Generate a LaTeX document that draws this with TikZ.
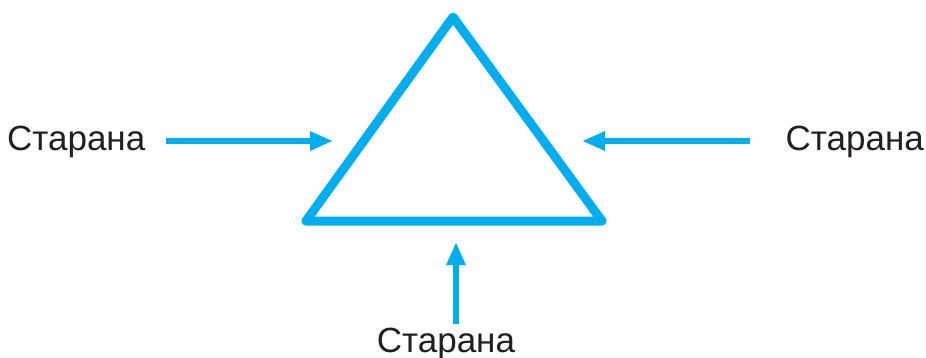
\documentclass[tikz,border=0pt]{standalone}
\usepackage{fontspec}
\setmainfont{Liberation Sans}
\usepackage{xcolor}
\usetikzlibrary{arrows.meta}
\definecolor{sideblue}{HTML}{00AEEF}
\definecolor{txtgray}{HTML}{231F20}

\begin{document}
\begin{tikzpicture}[x=1pt,y=-1pt,
  sidearrow/.style={line width=6pt,sideblue,-{Triangle[length=23pt,width=18pt]}},
  sidelabel/.style={inner sep=0pt,text=txtgray,font=\fontsize{35}{40}\selectfont}]
\useasboundingbox (0,0) rectangle (926,357);
% triangle
\coordinate (top) at (453,17);
\coordinate (bl) at (306,221);
\coordinate (br) at (602,221);
\draw[sideblue,line width=9pt,line join=round](top)--(bl)--(br)--cycle;
% labels
\node[sidelabel,anchor=base west](sl) at (7,150){Старана};
\node[sidelabel,anchor=base east](sr) at (924,150){Старана};
\node[sidelabel,anchor=base](sb) at (446,352){Старана};
% arrow tips
\coordinate (tl) at (333,141);
\coordinate (tr) at (582,141);
\coordinate (tb) at (456,242);
\draw[sidearrow,shorten <=20pt](sl.east|-tl)--(tl);
\draw[sidearrow,shorten <=36pt](sr.west|-tr)--(tr);
\draw[sidearrow](tb|-0,324)--(tb);
\end{tikzpicture}
\end{document}
